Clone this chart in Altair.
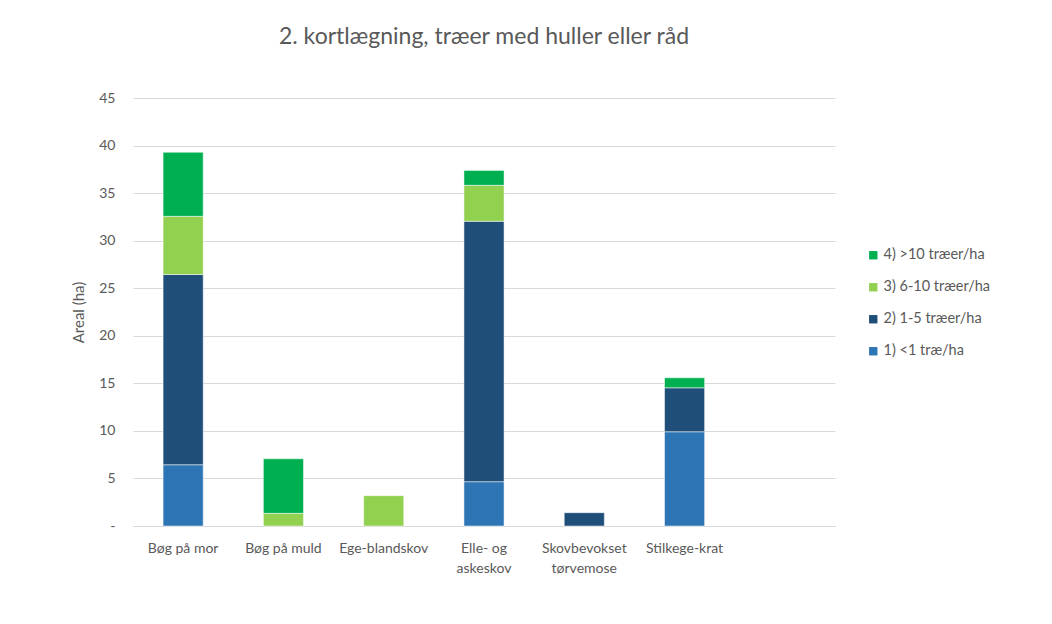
import altair as alt
import pandas as pd

categories = ["Bøg på mor", "Bøg på muld", "Ege-blandskov", "Elle- og\naskeskov",
              "Skovbevokset\ntørvemose", "Stilkege-krat", " "]
series = ["1) <1 træ/ha", "2) 1-5 træer/ha", "3) 6-10 træer/ha", "4) >10 træer/ha"]
colors = ["#2E75B6", "#1F4E79", "#92D050", "#00B050"]

v1 = [6.44, 0, 0, 4.66, 0, 9.91]
v2 = [20.0, 0, 0, 27.38, 1.40, 4.62]
v3 = [6.12, 1.33, 3.19, 3.78, 0, 0]
v4 = [6.73, 5.74, 0, 1.57, 0, 1.05]

rows = []
for si, vals in enumerate([v1, v2, v3, v4]):
    for ci, v in enumerate(vals):
        if v > 0:
            rows.append({"kategori": categories[ci], "serie": series[si], "orden": si, "areal": v})
df = pd.DataFrame(rows)

FONT = "Lato"
GREY = "#595959"

chart = alt.Chart(df).mark_bar(stroke="white", strokeWidth=0.5).encode(
    x=alt.X("kategori:N", sort=categories, title=None,
            scale=alt.Scale(domain=categories, paddingInner=0.6, paddingOuter=0.3),
            axis=alt.Axis(labelAngle=0, labelExpr="split(datum.label, '\\n')",
                          labelFontSize=14, labelColor=GREY, labelFont=FONT,
                          labelPadding=15, ticks=False, domainColor="#D9D9D9",
                          labelLineHeight=20, labelBaseline="top")),
    y=alt.Y("areal:Q", title="Areal (ha)", stack="zero",
            scale=alt.Scale(domain=[0, 45], nice=False),
            axis=alt.Axis(values=list(range(0, 50, 5)), labelExpr="datum.value == 0 ? '-' : datum.label",
                          labelFontSize=14, labelColor=GREY, labelFont=FONT, labelPadding=18,
                          ticks=False, domain=False, gridColor="#D9D9D9", gridWidth=1,
                          titleFontSize=15, titleColor=GREY, titleFont=FONT, titleFontWeight="normal",
                          titlePadding=12)),
    color=alt.Color("serie:N",
                    scale=alt.Scale(domain=list(reversed(series)), range=list(reversed(colors))),
                    legend=alt.Legend(title=None, orient="none", legendX=733, legendY=150,
                                      symbolType="square", symbolSize=70, symbolStrokeWidth=0,
                                      labelFontSize=14.5, labelColor=GREY, labelFont=FONT,
                                      rowPadding=17, labelOffset=3)),
    order=alt.Order("orden:Q", sort="ascending"),
).properties(
    width=702, height=428,
    title=alt.TitleParams("2. kortlægning, træer med huller eller råd", fontSize=23,
                          font=FONT, color=GREY, fontWeight="normal", anchor="middle", offset=42),
    autosize=alt.AutoSizeParams(type="none"),
    padding={"left": 125, "top": 90, "right": 209, "bottom": 90},
).configure_view(stroke=None)

chart.save("out.html", embed_options={"renderer": "svg", "actions": False})
